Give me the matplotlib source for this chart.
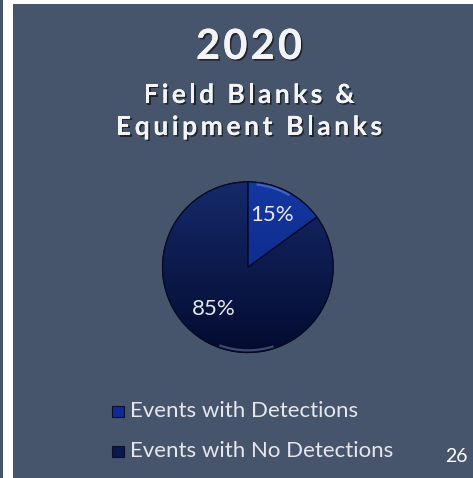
import matplotlib
matplotlib.use('Agg')
import matplotlib.pyplot as plt
import matplotlib.patheffects as pe
from matplotlib.colors import LinearSegmentedColormap
from matplotlib.patches import Rectangle, Wedge, Arc
import numpy as np

# data
labels = ['Events with Detections', 'Events with No Detections']
values = [15, 85]
pct_text = ['15%', '85%']
year = '2020'
subtitle = ['Field Blanks &', 'Equipment Blanks']
page_no = '26'

bg = '#46556b'
# (top, bottom) gradient colours for each slice
slice_grad = [('#1538a4', '#0a2178'), ('#152b6c', '#030a2e')]
legend_cols = ['#0c2b95', '#0a1750']

W, H = 473, 478
fig = plt.figure(figsize=(W / 100, H / 100), dpi=100)
fig.patch.set_facecolor(bg)

# white frame strips
fig.add_artist(Rectangle((3/W, 0), 10/W, 1, transform=fig.transFigure,
                         color='white', lw=0))
fig.add_artist(Rectangle((13/W, 1 - 4/H), 1, 4/H, transform=fig.transFigure,
                         color='white', lw=0))

shadow = [pe.withSimplePatchShadow(offset=(1.2, -1.2), shadow_rgbFace='black', alpha=0.55), pe.Normal()]
renderer = fig.canvas.get_renderer()


def text_width(s, **kw):
    t = fig.text(0, 0, s, **kw)
    w = t.get_window_extent(renderer).width
    t.remove()
    return w


def spaced_text(xc, yc, s, target_w, **kw):
    # letter-spaced title text, centred at pixel (xc, yc)
    ref = text_width('I', **kw)
    lefts = [text_width(s[:i] + 'I', **kw) - ref for i in range(len(s))]
    natural = text_width(s, **kw)
    gap = (target_w - natural) / (len(s) - 1)
    x0 = xc - target_w / 2
    for i, ch in enumerate(s):
        if ch == ' ':
            continue
        fig.text((x0 + lefts[i] + gap * i) / W, 1 - yc / H, ch, ha='left', va='center', **kw)


title_kw = dict(color='#f4f4f6', fontweight='bold', family='Lato', path_effects=shadow)
spaced_text(249, 47, year, 106, fontsize=30, **title_kw)
spaced_text(249, 95, subtitle[0], 211, fontsize=19, **title_kw)
spaced_text(249, 127, subtitle[1], 266, fontsize=19, **title_kw)

# pie
ax = fig.add_axes([0.340, 0.259, 0.368, 0.364])
ax.set_facecolor('none')
wedges, _ = ax.pie(values, startangle=90, counterclock=False,
                   colors=[g[0] for g in slice_grad],
                   wedgeprops=dict(edgecolor='#050a24', linewidth=0.9))
grad = np.linspace(0, 1, 256).reshape(-1, 1)
for w, (top, bot) in zip(wedges, slice_grad):
    cmap = LinearSegmentedColormap.from_list('g', [top, bot])
    im = ax.imshow(grad, cmap=cmap, extent=(-1.05, 1.05, -1.05, 1.05),
                   origin='upper', aspect='auto', zorder=w.get_zorder() + 0.1)
    im.set_clip_path(w)
    ax.add_patch(Wedge(w.center, w.r, w.theta1, w.theta2, fill=False,
                       edgecolor='#050a24', linewidth=0.9, zorder=w.get_zorder() + 0.2))
# glossy rim highlights
ax.add_patch(Arc((0, 0), 1.95, 1.95, theta1=60, theta2=84, color='#7f96e0',
                 lw=1.6, alpha=0.45, zorder=5))
ax.add_patch(Arc((0, 0), 1.95, 1.95, theta1=250, theta2=288, color='#9aa8d8',
                 lw=1.6, alpha=0.4, zorder=5))
ax.set_xlim(-1.02, 1.02)
ax.set_ylim(-1.02, 1.02)
ax.set_aspect('equal')
ax.axis('off')

fig.text(272/W, 1 - 215/H, pct_text[0], ha='center', va='center',
         color='#e8e8f0', fontsize=16, family='Lato')
fig.text(214/W, 1 - 309/H, pct_text[1], ha='center', va='center',
         color='#e8e8f0', fontsize=16, family='Lato')

# legend
leg_y = [1 - 411/H, 1 - 451/H]
for lab, col, y in zip(labels, legend_cols, leg_y):
    fig.add_artist(Rectangle((112/W, y - 6/H), 12/W, 11/H,
                             transform=fig.transFigure, facecolor=col,
                             edgecolor='#0a0f25', lw=0.8))
    fig.text(130/W, y, lab, ha='left', va='center', color='#e6e6ee',
             fontsize=16, family='Lato')

fig.text(456/W, 1 - 456/H, page_no, ha='center', va='center',
         color='white', fontsize=14, family='Lato')

fig.savefig('out.png', dpi=100, facecolor=bg)
